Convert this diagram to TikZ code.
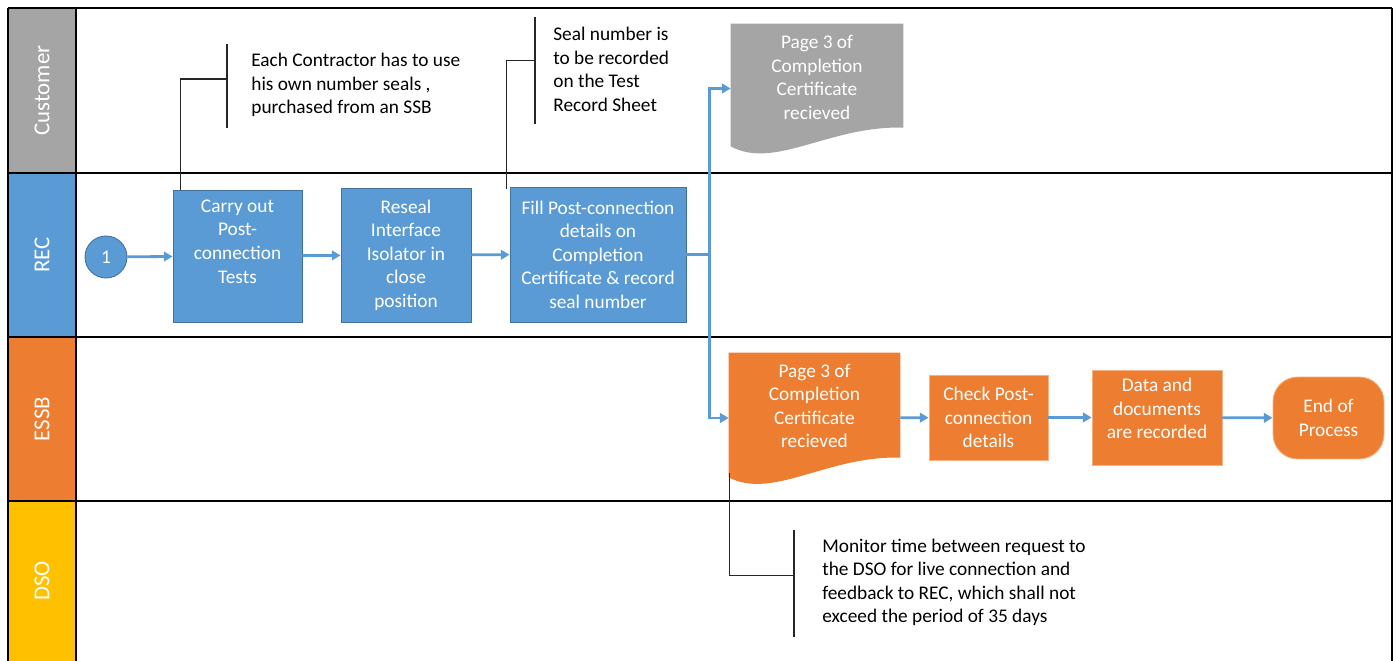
\documentclass[tikz,border=0pt]{standalone}
\usepackage{fontspec}
\setmainfont{Carlito}
\usetikzlibrary{calc,arrows.meta,positioning}

\definecolor{laneGray}{HTML}{A5A5A5}
\definecolor{laneBlue}{HTML}{5B9BD5}
\definecolor{laneOrange}{HTML}{ED7D31}
\definecolor{laneYellow}{HTML}{FFC000}
\definecolor{boxEdge}{HTML}{41719C}

\tikzset{
  txt/.style={font=\fontsize{11pt}{13.4pt}\selectfont, align=center},
  lanelabel/.style={rotate=90, text=white, font=\fontsize{13pt}{15pt}\selectfont},
  laneline/.style={line width=1.4pt, black},
  procbox/.style={txt, rectangle, fill=laneBlue, draw=boxEdge, line width=0.5pt, text=white, inner sep=2pt},
  essbbox/.style={txt, rectangle, fill=laneOrange, draw=laneOrange!60!white, line width=0.5pt, text=white, inner sep=2pt},
  docbox/.style={rectangle, inner sep=0pt},
  note/.style={txt, align=left, inner sep=0pt, anchor=west},
  callout/.style={draw=black!85, line width=0.6pt},
  flow/.style={draw=laneBlue, line width=1.6pt, -{Triangle[length=5pt,width=5.5pt]}},
}

\begin{document}
\begin{tikzpicture}[x=0.02cm,y=-0.02cm]
    \useasboundingbox (0,0) rectangle (1397,661);

    % Bahnen
    \foreach \top/\bot/\name/\col in {8/173/Customer/laneGray,173/337/REC/laneBlue,337/501/ESSB/laneOrange,501/661/DSO/laneYellow}{
      \fill[\col] (8,\top) rectangle (76,\bot);
      \node[lanelabel] (lane-\name) at (42,{(\top+\bot)/2}) {\name};
      \draw[laneline] (8,\top) -- (1392,\top);
    }
    \draw[laneline] (8,8) -- (8,661);
    \draw[laneline] (76,8) -- (76,661);
    \draw[laneline] (1392,8) -- (1392,661);

    % REC
    \node[txt, circle, fill=laneBlue, draw=boxEdge, line width=0.5pt, text=white, minimum size=0.84cm, inner sep=0pt] (one) at (106,257) {1};
    \node[procbox, text depth=0.58cm, minimum width=2.58cm, minimum height=2.64cm] (carry) at (237.5,256) {Carry out\\Post-\\connection\\Tests};
    \node[procbox, minimum width=2.6cm, minimum height=2.68cm] (reseal) at (406,255) {Reseal\\Interface\\Isolator in\\close\\position};
    \node[procbox, minimum width=3.52cm, minimum height=2.7cm] (fill) at (598,254.5) {Fill Post-connection\\details on\\Completion\\Certificate \& record\\seal number};

    % Customer: Dokument
    \node[docbox, minimum width=3.44cm, minimum height=2.58cm] (gdoc) at (817,88.5) {};
    \fill[laneGray] (gdoc.north west) -- (gdoc.north east) -- ($(gdoc.north east)+(0,104)$)
      .. controls ($(gdoc.south west)+(99,-28)$) and ($(gdoc.south west)+(44,17)$) .. ($(gdoc.south west)+(0,-7)$) -- cycle;
    \node[txt, text=white] (gdoc-text) at ([yshift=0.22cm]gdoc.center) {Page 3 of\\Completion\\Certificate\\recieved};

    % ESSB
    \node[docbox, minimum width=3.42cm, minimum height=2.6cm] (odoc) at (814.5,418) {};
    \fill[laneOrange] (odoc.north west) -- (odoc.north east) -- ($(odoc.north east)+(0,105)$)
      .. controls ($(odoc.south west)+(99,-28)$) and ($(odoc.south west)+(44,17)$) .. ($(odoc.south west)+(0,-6)$) -- cycle;
    \node[txt, text=white] (odoc-text) at ([yshift=0.24cm]odoc.center) {Page 3 of\\Completion\\Certificate\\recieved};
    \node[essbbox, minimum width=2.38cm, minimum height=1.7cm] (check) at (988.5,417.5) {Check Post-\\connection\\details};
    \node[essbbox, text depth=0.36cm, minimum width=2.6cm, minimum height=1.9cm] (data) at (1157,417.5) {Data and\\documents\\are recorded};
    \node[essbbox, rounded corners=14pt, minimum width=2.22cm, minimum height=1.64cm] (endp) at (1328.5,418) {End of\\Process};

    % Pfeile
    \coordinate (split) at ($(fill.east)+(23,0)$);
    \draw[flow] (one) -- (carry);
    \draw[flow] (carry) -- (reseal);
    \draw[flow] (reseal) -- (fill);
    \draw[flow] (fill.east) -- (split) |- (gdoc.west);
    \draw[flow] (split) |- (odoc.west);
    \draw[flow] (odoc) -- (check);
    \draw[flow] (check) -- (data);
    \draw[flow] (data) -- (endp);

    % Anmerkungen
    \node[note] (note1) at (251,85) {Each Contractor has to use\\his own number seals ,\\purchased from an SSB};
    \draw[callout] ($(note1.west)+(-24,-41)$) -- ($(note1.west)+(-24,43)$);
    \draw[callout] ($(note1.west)+(-24,-6)$) -| ($(carry.north west)+(8,0)$);

    \node[note] (note2) at (553,69.5) {Seal number is\\to be recorded\\on the Test\\Record Sheet};
    \draw[callout] ($(note2.west)+(-18,-52)$) -- ($(note2.west)+(-18,55)$);
    \draw[callout] ($(note2.west)+(-18,-9)$) -| ($(fill.north west)+(-3,2)$);

    \node[note] (note3) at (822,582.5) {Monitor time between request to\\the DSO for live connection and\\feedback to REC, which shall not\\exceed the period of 35 days};
    \draw[callout] ($(note3.west)+(-28,-52)$) -- ($(note3.west)+(-28,55)$);
    \draw[callout] ($(note3.west)+(-28,-7)$) -| ($(odoc.south west)+(1,-10)$);
\end{tikzpicture}
\end{document}
